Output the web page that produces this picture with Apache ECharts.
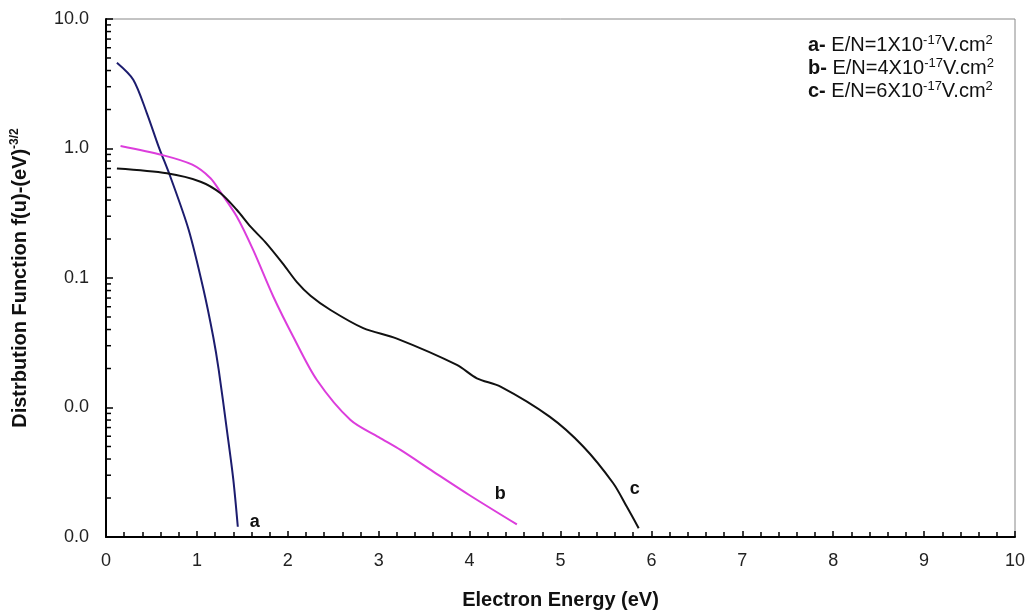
<!DOCTYPE html>
<html>
<head>
<meta charset="utf-8">
<script src="https://cdn.jsdelivr.net/npm/echarts@6/dist/echarts.min.js"></script>
<style>html,body{margin:0;padding:0;background:#fff}#c{width:1030px;height:612px}</style>
</head>
<body>
<div id="c"></div>
<script>
// ---- data ----
const energyA = [0.12, 0.30, 0.45, 0.58, 0.71, 0.91, 1.07, 1.18, 1.24, 1.33, 1.40, 1.45];
const fA      = [4.6, 3.4, 1.87, 1.03, 0.60, 0.235, 0.083, 0.035, 0.0195, 0.0067, 0.0028, 0.0012];

const energyB = [0.16, 0.62, 0.95, 1.15, 1.26, 1.44, 1.62, 1.84, 2.06, 2.32, 2.69, 3.00, 3.24, 3.60, 4.00, 4.52];
const fB      = [1.045, 0.89, 0.75, 0.59, 0.46, 0.297, 0.164, 0.072, 0.0352, 0.0163, 0.0080, 0.0059, 0.0047, 0.0032, 0.0021, 0.00125];

const energyC = [0.12, 0.67, 1.04, 1.26, 1.44, 1.59, 1.75, 1.95, 2.10, 2.25, 2.47, 2.83, 3.20, 3.86, 4.08, 4.34, 4.88, 5.25, 5.58, 5.73, 5.86];
const fC      = [0.70, 0.643, 0.554, 0.451, 0.335, 0.249, 0.19, 0.128, 0.093, 0.073, 0.0566, 0.041, 0.034, 0.0213, 0.0168, 0.0145, 0.0085, 0.0050, 0.0026, 0.00171, 0.00117];

const curveNames = ['a', 'b', 'c'];
const legendLines = [
  ['a-', '1'],
  ['b-', '4'],
  ['c-', '6']
];
const yMinorTicks = [
  0.002,0.003,0.004,0.005,0.006,0.007,0.008,0.009,
  0.02,0.03,0.04,0.05,0.06,0.07,0.08,0.09,
  0.2,0.3,0.4,0.5,0.6,0.7,0.8,0.9,
  2,3,4,5,6,7,8,9
];
const xAxisTitle = 'Electron Energy (eV)';
const yAxisTitle = 'Distrbution Function f(u)-(eV)';
const yAxisTitleSup = '-3/2';

// ---- chart ----
const FONT = 'Arial, "Liberation Sans", sans-serif';
const zip = (xs, ys) => xs.map((x, i) => [x, ys[i]]);

const chart = echarts.init(document.getElementById('c'), null, {renderer: 'canvas'});

function lineSeries(name, data, color, labelOffset) {
  return {
    type: 'line',
    name: name,
    data: data,
    showSymbol: false,
    symbol: 'none',
    smooth: 0.3,
    lineStyle: {color: color, width: 2},
    itemStyle: {color: color},
    endLabel: {
      show: true,
      formatter: name,
      offset: labelOffset,
      color: '#111',
      fontFamily: FONT,
      fontWeight: 'bold',
      fontSize: 18
    },
    z: 3
  };
}

const legendText = legendLines.map(l =>
  '{b|' + l[0] + '} {n|E/N=' + l[1] + 'X10}{s|-17}{n|V.cm}{s|2}').join('\n');

const option = {
  animation: false,
  backgroundColor: '#fff',
  grid: {
    left: 106, right: 15, top: 19, bottom: 75,
    containLabel: false,
    outerBoundsMode: 'none',
    show: true, borderColor: '#888', borderWidth: 1, backgroundColor: 'transparent'
  },
  xAxis: {
    type: 'value', min: 0, max: 10, interval: 1,
    name: xAxisTitle, nameLocation: 'middle', nameGap: 53,
    nameTextStyle: {fontFamily: FONT, fontWeight: 'bold', fontSize: 20, color: '#111'},
    axisLine: {lineStyle: {color: '#000', width: 2}},
    axisTick: {inside: true, length: 6, lineStyle: {color: '#000', width: 1.5}},
    minorTick: {show: true, splitNumber: 5, length: 5, lineStyle: {color: '#000', width: 1.5}},
    splitLine: {show: false},
    minorSplitLine: {show: false},
    axisLabel: {fontFamily: FONT, fontSize: 18, color: '#222', margin: 15}
  },
  yAxis: {
    type: 'log', logBase: 10, min: 0.001, max: 10,
    name: '{t|' + yAxisTitle + '}{s|' + yAxisTitleSup + '}',
    nameLocation: 'middle', nameGap: 74, nameRotate: 90,
    nameTextStyle: {
      fontFamily: FONT, fontWeight: 'bold', fontSize: 20, color: '#111',
      rich: {
        t: {fontFamily: FONT, fontWeight: 'bold', fontSize: 20, color: '#111', lineHeight: 24},
        s: {fontFamily: FONT, fontWeight: 'bold', fontSize: 12, color: '#111', lineHeight: 24, padding: [0, 0, 10, 0]}
      }
    },
    axisLine: {show: true, lineStyle: {color: '#000', width: 2}},
    axisTick: {inside: true, length: 7, lineStyle: {color: '#000', width: 1.5}},
    minorTick: {show: false},
    splitLine: {show: false},
    axisLabel: {
      fontFamily: FONT, fontSize: 18, color: '#222', margin: 17,
      formatter: v => Number(v).toFixed(1)
    }
  },
  graphic: [{
    type: 'text',
    left: 808, top: 34,
    z: 10,
    style: {
      text: legendText,
      fill: '#111',
      font: '20px ' + FONT,
      lineHeight: 23,
      rich: {
        b: {fontFamily: FONT, fontWeight: 'bold', fontSize: 20, fill: '#111', lineHeight: 23},
        n: {fontFamily: FONT, fontSize: 20, fill: '#111', lineHeight: 23},
        s: {fontFamily: FONT, fontSize: 13, fill: '#111', lineHeight: 23, padding: [0, 0, 10, 0]}
      }
    }
  }],
  series: [
    lineSeries(curveNames[0], zip(energyA, fA), '#1c1c6e', [4, -5]),
    lineSeries(curveNames[1], zip(energyB, fB), '#dc3ddc', [-30, -30]),
    lineSeries(curveNames[2], zip(energyC, fC), '#111111', [-17, -39]),
    {
      type: 'custom',
      silent: true,
      clip: false,
      z: 4,
      data: yMinorTicks.map(v => [0, v]),
      renderItem: function (params, api) {
        const p = api.coord([0, api.value(1)]);
        return {
          type: 'line',
          shape: {x1: p[0], y1: p[1], x2: p[0] + 5, y2: p[1]},
          style: {stroke: '#000', lineWidth: 1.5}
        };
      }
    }
  ]
};
chart.setOption(option);
</script>
</body>
</html>
